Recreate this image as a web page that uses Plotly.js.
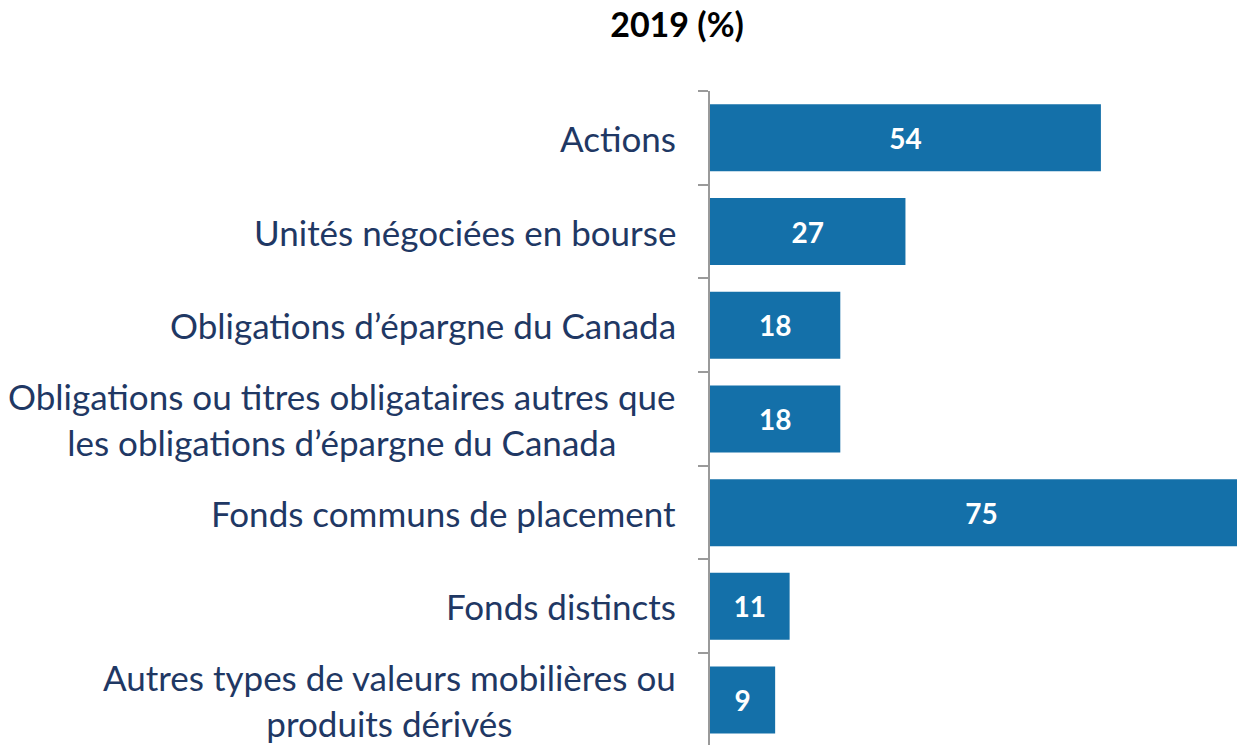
<!DOCTYPE html>
<html>
<head>
<meta charset="utf-8">
<script src="https://cdn.plot.ly/plotly-3.0.1.min.js"></script>
<style>html,body{margin:0;padding:0;background:#fff;overflow:hidden;}</style>
</head>
<body>
<div id="chart" style="width:1237px;height:745px;"></div>
<script>
const categories = [
  "Actions",
  "Unités négociées en bourse",
  "Obligations d’épargne du Canada",
  "Obligations ou titres obligataires autres que<br>les obligations d’épargne du Canada",
  "Fonds communs de placement",
  "Fonds distincts",
  "Autres types de valeurs mobilières ou<br>produits dérivés"
];
const values = [54, 27, 18, 18, 75, 11, 9];
const chartTitle = "2019 (%)";

const FONT = "Lato, 'Open Sans', sans-serif";
const LABEL_COLOR = "#1F3864";
const BAR_COLOR = "#1470A9";

const trace = {
  type: "bar",
  orientation: "h",
  x: values,
  y: categories,
  marker: {color: BAR_COLOR},
  text: values.map(v => "<b>" + v + "</b>"),
  textposition: "inside",
  insidetextanchor: "middle",
  textangle: 0,
  constraintext: "none",
  textfont: {family: FONT, size: 28, color: "#ffffff"},
  hoverinfo: "none"
};

const annotations = categories.map(c => ({
  text: c,
  xref: "paper",
  yref: "y",
  x: -0.061,
  y: c,
  xanchor: "right",
  yanchor: "middle",
  align: "center",
  showarrow: false,
  font: {family: FONT, size: 35, color: LABEL_COLOR}
}));

const layout = {
  width: 1237,
  height: 745,
  margin: {l: 710, r: 0, t: 91, b: 0, pad: 0},
  paper_bgcolor: "#ffffff",
  plot_bgcolor: "#ffffff",
  showlegend: false,
  bargap: 0.285,
  title: {
    text: "<b>" + chartTitle + "</b>",
    font: {family: FONT, size: 34, color: "#000000"},
    x: 677 / 1237,
    xanchor: "center",
    xref: "container",
    y: 1 - 25 / 745,
    yanchor: "middle",
    yref: "container"
  },
  xaxis: {
    range: [0, 72.8],
    showgrid: false,
    zeroline: false,
    showline: false,
    showticklabels: false,
    ticks: ""
  },
  yaxis: {
    type: "category",
    range: [6.48, -0.5],
    showgrid: false,
    zeroline: false,
    showline: true,
    linecolor: "#9a9a9a",
    linewidth: 2,
    ticks: "outside",
    tickson: "boundaries",
    ticklen: 10,
    tickwidth: 2,
    tickcolor: "#9a9a9a",
    showticklabels: false
  },
  annotations: annotations
};

Plotly.newPlot("chart", [trace], layout, {displayModeBar: false, staticPlot: true});
</script>
</body>
</html>
